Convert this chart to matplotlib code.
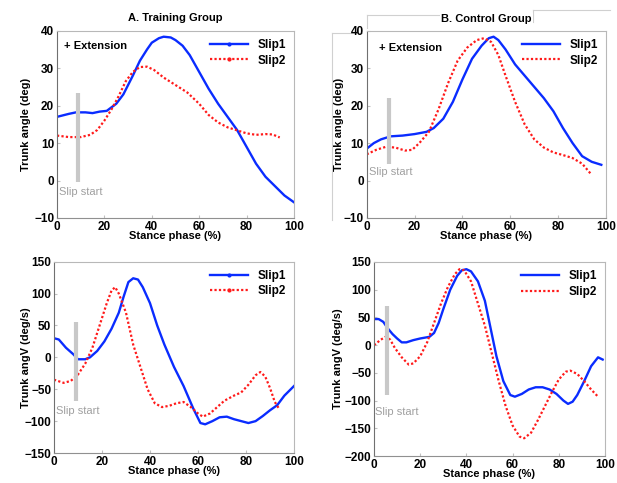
import matplotlib
matplotlib.use('Agg')
import matplotlib.pyplot as plt
from matplotlib.lines import Line2D
import numpy as np

plt.rcParams['font.family'] = ['Liberation Sans', 'DejaVu Sans']

# A. Training group - trunk angle
ta_x1 = [0, 5, 8, 12, 15, 18, 21, 25, 28, 32, 35, 38, 40, 43, 45, 48, 50, 53, 56, 60, 64, 68, 72, 76, 80, 84, 88, 92, 96, 100]
ta_y1 = [17, 17.8, 18.2, 18.2, 18, 18.4, 18.6, 20.5, 23, 28, 32, 35, 36.8, 38, 38.4, 38.2, 37.5, 36, 33.5, 29, 24.5, 20.5, 17, 13.5, 9, 4.5, 1, -1.5, -4, -5.8]
ta_x2 = [0, 5, 10, 14, 17, 20, 23, 26, 29, 32, 35, 38, 41, 45, 50, 55, 60, 64, 68, 72, 76, 80, 84, 88, 91, 94]
ta_y2 = [12, 11.6, 11.6, 12.2, 13.5, 16, 19, 22.5, 26.5, 29, 30.3, 30.4, 29.5, 27.5, 25.5, 23.5, 20.5, 17.5, 15.5, 14.2, 13.4, 12.6, 12.2, 12.4, 12.3, 11.5]

# B. Control group - trunk angle
tb_x1 = [0, 3, 6, 10, 15, 20, 25, 28, 32, 36, 40, 44, 48, 51, 53, 55, 58, 62, 66, 70, 74, 78, 82, 86, 90, 94, 98]
tb_y1 = [8.5, 10, 11, 11.8, 12, 12.4, 13, 14, 16.5, 21, 27, 32.5, 36, 38, 38.4, 37.5, 35, 31, 28, 25, 22, 18.5, 14, 10, 6.5, 5, 4.2]
tb_x2 = [0, 4, 8, 12, 16, 19, 22, 26, 30, 34, 38, 42, 46, 49, 52, 55, 58, 62, 66, 70, 74, 78, 82, 86, 90, 94]
tb_y2 = [7, 8.2, 9, 8.8, 8, 8.2, 10, 13, 19, 26, 32, 35.5, 37.5, 38, 37, 33.5, 28, 21, 15, 11, 8.8, 7.5, 6.8, 6, 4.5, 1.5]

# A. Training group - angular velocity
va_x1 = [0, 2, 5, 8, 10, 13, 15, 18, 21, 24, 27, 29, 31, 33, 35, 37, 40, 43, 46, 50, 54, 58, 61, 63, 66, 69, 72, 75, 78, 81, 84, 87, 90, 93, 96, 100]
va_y1 = [30, 28, 15, 5, -3, -3, 0, 10, 25, 45, 70, 95, 118, 124, 122, 110, 85, 50, 20, -15, -45, -80, -103, -105, -100, -94, -93, -97, -100, -103, -100, -92, -83, -75, -60, -45]
va_x2 = [0, 4, 7, 10, 13, 16, 19, 22, 24, 25.5, 27, 30, 33, 36, 39, 42, 45, 48, 51, 54, 57, 60, 62, 65, 68, 71, 75, 78, 81, 84, 86, 88, 90, 92, 94]
va_y2 = [-35, -40, -37, -27, -10, 15, 50, 85, 105, 110, 100, 70, 20, -15, -50, -72, -78, -76, -72, -70, -78, -88, -93, -88, -78, -68, -60, -55, -43, -28, -23, -30, -48, -70, -82]

# B. Control group - angular velocity
vb_x1 = [0, 2, 4, 6, 8, 10, 12, 14, 17, 20, 24, 26, 28, 30, 33, 36, 38, 40, 42, 45, 48, 50, 53, 56, 59, 61, 64, 67, 70, 73, 76, 79, 82, 84, 86, 88, 91, 94, 97, 99]
vb_y1 = [47, 47, 42, 30, 20, 12, 5, 5, 9, 12, 15, 22, 40, 65, 100, 125, 135, 137, 133, 115, 80, 40, -20, -65, -90, -93, -88, -80, -76, -76, -80, -88, -100, -106, -102, -90, -65, -38, -22, -26]
vb_x2 = [0, 3, 5, 7, 9, 12, 15, 17, 20, 23, 26, 29, 32, 35, 37, 39, 42, 45, 48, 51, 54, 57, 60, 63, 65, 68, 71, 74, 77, 80, 83, 85, 88, 91, 94, 97]
vb_y2 = [0, 10, 15, 10, -5, -22, -35, -33, -20, 5, 40, 75, 105, 128, 137, 135, 115, 75, 35, -15, -65, -110, -145, -165, -168, -158, -135, -110, -85, -62, -48, -46, -52, -65, -80, -93]

# slip start bars: x, ymin, ymax, label y
slip_bars = [(8.7, -0.5, 23.3, -3), (9.2, 4.5, 22, 2.2), (9.2, -68, 55, -84), (5.8, -90, 70, -120)]

fig = plt.figure(figsize=(6.17, 4.83), dpi=100)
axA = fig.add_axes([0.0924, 0.5487, 0.384, 0.3877])
axB = fig.add_axes([0.5943, 0.5487, 0.388, 0.3877])
axC = fig.add_axes([0.0875, 0.0621, 0.389, 0.3961])
axD = fig.add_axes([0.6062, 0.0559, 0.3743, 0.4017])

blue = '#0a2cff'
red = '#ff1a1a'

panels = [
    (axA, ta_x1, ta_y1, ta_x2, ta_y2, (-10, 40), 'Trunk angle (deg)', True, 2),
    (axB, tb_x1, tb_y1, tb_x2, tb_y2, (-10, 40), 'Trunk angle (deg)', False, 0),
    (axC, va_x1, va_y1, va_x2, va_y2, (-150, 150), 'Trunk angV (deg/s)', True, -4.5),
    (axD, vb_x1, vb_y1, vb_x2, vb_y2, (-200, 150), 'Trunk angV (deg/s)', False, 1),
]

for i, (ax, x1, y1, x2, y2, ylim, ylab, mark, lpad) in enumerate(panels):
    ax.plot(x1, y1, color=blue, lw=1.7)
    ax.plot(x2, y2, color=red, lw=1.6, ls=(0, (1, 1)))
    bx, b0, b1, ty = slip_bars[i]
    ax.plot([bx, bx], [b0, b1], color='#c8c8c8', lw=3, solid_capstyle='butt')
    ax.text(1 if i != 3 else 0.5, ty, 'Slip start',
            color='#a0a0a0', fontsize=8, va='center', ha='left')
    ax.set_xlim(0, 100)
    ax.set_ylim(*ylim)
    ax.set_xticks([0, 20, 40, 60, 80, 100])
    ax.set_ylabel(ylab, fontsize=8, fontweight='bold', labelpad=lpad)
    ax.set_xlabel('Stance phase (%)', fontsize=8, fontweight='bold', labelpad=-1)
    ax.tick_params(direction='in', length=2, color='#c0c0c0', labelsize=8.5, pad=2)
    for lab in ax.get_xticklabels() + ax.get_yticklabels():
        lab.set_fontweight('bold')
    for s in ax.spines.values():
        s.set_color('#b8b8b8')
        s.set_linewidth(0.8)
    ax.spines['left'].set_color('#707070')
    ax.spines['bottom'].set_color('#909090')
    mk = '.' if mark else None
    handles = [Line2D([], [], color=blue, lw=1.7, marker=mk, markersize=4),
               Line2D([], [], color=red, lw=1.6, ls=(0, (1, 1)), marker=mk, markersize=4)]
    ax.legend(handles, ['Slip1', 'Slip2'], loc='upper right', frameon=False,
              prop={'size': 8.5, 'weight': 'bold'}, handlelength=3.2,
              numpoints=1, borderaxespad=0.3, labelspacing=0.3)

axA.text(3, 36, '+ Extension', fontsize=8, fontweight='bold', va='center')
axB.text(5, 35.5, '+ Extension', fontsize=8, fontweight='bold', va='center')

axA.set_title('A. Training Group', fontsize=8, fontweight='bold', pad=7)
tB = axB.set_title('B. Control Group', fontsize=8, fontweight='bold', pad=6)
tB.set_bbox(dict(facecolor='white', edgecolor='none', pad=1))

# faint scan edges around panel B
edge = dict(color='#d0d0d0', lw=0.8, transform=fig.transFigure, zorder=0)
fig.add_artist(Line2D([331.5 / 617, 331.5 / 617], [1 - 33 / 483, 1 - 220 / 483], **edge))
fig.add_artist(Line2D([331.5 / 617, 362 / 617], [1 - 33 / 483, 1 - 33 / 483], **edge))
fig.add_artist(Line2D([367 / 617, 532.5 / 617], [1 - 15 / 483, 1 - 15 / 483], **edge))
fig.add_artist(Line2D([367 / 617, 367 / 617], [1 - 15 / 483, 1 - 28 / 483], **edge))
fig.add_artist(Line2D([532.5 / 617, 532.5 / 617], [1 - 10 / 483, 1 - 22 / 483], **edge))
fig.add_artist(Line2D([532.5 / 617, 610 / 617], [1 - 10 / 483, 1 - 10 / 483], **edge))

fig.savefig('out.png', dpi=100)
